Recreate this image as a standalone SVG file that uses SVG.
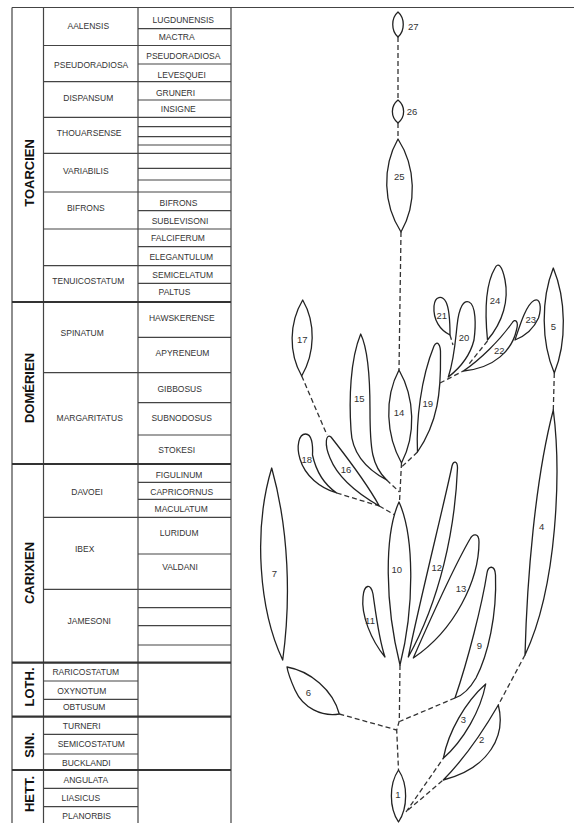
<svg xmlns="http://www.w3.org/2000/svg" width="574" height="823" viewBox="0 0 574 823">
<style>
.bg{fill:#fff}
.ln{stroke:#444;stroke-width:1.2;fill:none}
.tk{stroke:#333;stroke-width:2.2;fill:none}
.t{font-family:"Liberation Sans",Arial,sans-serif;font-size:8.5px;fill:#333;text-anchor:middle}
.st{font-family:"Liberation Sans",Arial,sans-serif;font-size:13px;font-weight:bold;fill:#111;text-anchor:middle}
.leaf{fill:#fff;stroke:#222;stroke-width:1.3;stroke-linejoin:round}
.n{font-family:"Liberation Sans",Arial,sans-serif;font-size:9.5px;fill:#333;text-anchor:middle}
.d{fill:none;stroke:#333;stroke-width:1.3;stroke-dasharray:5 3}
</style>
<rect class="bg" x="0" y="0" width="574" height="823"/>
<g id="table">
<path class="ln" d="M12,7.5H574 M12,7.5V823 M43.5,7.5V823 M138,7.5V823 M231,7.5V823"/>
<path class="tk" d="M12,302H231 M12,464H231 M12,662.7H231 M12,716.7H231 M12,770H231"/>
<path class="ln" d="M43.5,45.5H231 M43.5,81.7H231 M43.5,117.3H231 M43.5,153.3H231 M43.5,192H231 M43.5,229H231 M43.5,265.7H231 M43.5,372.7H231 M43.5,517.3H231 M43.5,589.3H231"/>
<path class="ln" d="M138,28.7H231 M138,64H231 M138,100H231 M138,126.7H231 M138,136.7H231 M138,145H231 M138,168.3H231 M138,180H231 M138,210.7H231 M138,246.7H231 M138,283.3H231 M138,337.3H231 M138,402.7H231 M138,435H231 M138,482.3H231 M138,499.3H231 M138,554H231 M138,607.7H231 M138,625.7H231 M138,645H231"/>
<path class="ln" d="M43.5,681H138 M43.5,699.3H138 M43.5,734.3H138 M43.5,754H138 M43.5,788.3H138 M43.5,806.7H138"/>
<text class="st" transform="translate(33.5,173) rotate(-90)">TOARCIEN</text>
<text class="st" transform="translate(33.5,388) rotate(-90)">DOMÉRIEN</text>
<text class="st" transform="translate(33.5,573) rotate(-90)">CARIXIEN</text>
<text class="st" transform="translate(33.5,687) rotate(-90)">LOTH.</text>
<text class="st" transform="translate(33.5,745) rotate(-90)">SIN.</text>
<text class="st" transform="translate(33.5,794) rotate(-90)">HETT.</text>
<text class="t" x="88.3" y="28.7">AALENSIS</text>
<text class="t" x="91.2" y="68">PSEUDORADIOSA</text>
<text class="t" x="88.3" y="101.3">DISPANSUM</text>
<text class="t" x="89.2" y="136.3">THOUARSENSE</text>
<text class="t" x="85.8" y="173.7">VARIABILIS</text>
<text class="t" x="85.8" y="211.3">BIFRONS</text>
<text class="t" x="88.3" y="284">TENUICOSTATUM</text>
<text class="t" x="82.2" y="336.3">SPINATUM</text>
<text class="t" x="89.7" y="421.3">MARGARITATUS</text>
<text class="t" x="87" y="494.7">DAVOEI</text>
<text class="t" x="84.7" y="552.3">IBEX</text>
<text class="t" x="89.2" y="624">JAMESONI</text>
<text class="t" x="183.3" y="23">LUGDUNENSIS</text>
<text class="t" x="176.7" y="39.7">MACTRA</text>
<text class="t" x="183.3" y="58.7">PSEUDORADIOSA</text>
<text class="t" x="181.7" y="78">LEVESQUEI</text>
<text class="t" x="175.5" y="96.3">GRUNERI</text>
<text class="t" x="178.3" y="112">INSIGNE</text>
<text class="t" x="178.5" y="206.3">BIFRONS</text>
<text class="t" x="180" y="224">SUBLEVISONI</text>
<text class="t" x="178" y="241.3">FALCIFERUM</text>
<text class="t" x="181.3" y="259.7">ELEGANTULUM</text>
<text class="t" x="182.7" y="278">SEMICELATUM</text>
<text class="t" x="174.5" y="294.7">PALTUS</text>
<text class="t" x="181.8" y="321.3">HAWSKERENSE</text>
<text class="t" x="182.5" y="356.3">APYRENEUM</text>
<text class="t" x="179.7" y="392.3">GIBBOSUS</text>
<text class="t" x="181.7" y="421.3">SUBNODOSUS</text>
<text class="t" x="176.7" y="453">STOKESI</text>
<text class="t" x="179" y="478">FIGULINUM</text>
<text class="t" x="181.7" y="494.7">CAPRICORNUS</text>
<text class="t" x="181.2" y="512.3">MACULATUM</text>
<text class="t" x="179.2" y="535.7">LURIDUM</text>
<text class="t" x="180" y="570.3">VALDANI</text>
<text class="t" x="85.8" y="674.7">RARICOSTATUM</text>
<text class="t" x="81.7" y="694">OXYNOTUM</text>
<text class="t" x="84.2" y="710.3">OBTUSUM</text>
<text class="t" x="81.7" y="729">TURNERI</text>
<text class="t" x="91.3" y="747.3">SEMICOSTATUM</text>
<text class="t" x="86.3" y="765.7">BUCKLANDI</text>
<text class="t" x="85.8" y="783">ANGULATA</text>
<text class="t" x="80.8" y="800.7">LIASICUS</text>
<text class="t" x="86.7" y="818.7">PLANORBIS</text>
</g>
<g id="connectors">
<path class="d" d="M398,37L398,100"/>
<path class="d" d="M398,123L398,139"/>
<path class="d" d="M401,232L399,370"/>
<path class="d" d="M401.5,463L399.5,502"/>
<path class="d" d="M417.5,452L400.5,468"/>
<path class="d" d="M386.7,480L399.5,492"/>
<path class="d" d="M379.3,506L395,515"/>
<path class="d" d="M336.7,493L379.3,506"/>
<path class="d" d="M301.7,376L327,435"/>
<path class="d" d="M440,383L463.3,371"/>
<path class="d" d="M487.5,341L469,364"/>
<path class="d" d="M450,335L453,345"/>
<path class="d" d="M554.3,373L553.3,410"/>
<path class="d" d="M525,655L498.3,705"/>
<path class="d" d="M400,665L399.3,721L396.7,730L398.5,770"/>
<path class="d" d="M455,698L399.5,721.5"/>
<path class="d" d="M339.3,714L396.7,730"/>
<path class="d" d="M406,812L443.3,758.3"/>
<path class="d" d="M408,810L443.3,780"/>
</g>
<g id="n27"><path class="leaf" d="M398,12C405,18 405,31 398,37C391,31 391,18 398,12Z"/><text class="n" x="413.3" y="30">27</text></g>
<g id="n26"><path class="leaf" d="M398,100C405.5,106 405.5,117 398,123C390.5,117 390.5,106 398,100Z"/><text class="n" x="412" y="115">26</text></g>
<g id="n25"><path class="leaf" d="M398,139C416,167 417,204 401,232C383,204 382,167 398,139Z"/><text class="n" x="399.3" y="180.3">25</text></g>
<g id="n24"><path class="leaf" d="M487.5,340C485,315 485,285 495,268C498,262 502,265 505,280C509,300 503,322 487.5,340Z"/><text class="n" x="495" y="304">24</text></g>
<g id="n23"><path class="leaf" d="M515,340C520,325 526,305 534,300.5C540,297 542,307 538.5,318C534,328 525,336 515,340Z"/><text class="n" x="530.7" y="323.3">23</text></g>
<g id="n22"><path class="leaf" d="M463.3,371C480,360 500,340 512,323C515,318 519,321 516.5,330C512,350 495,368 463.3,371Z"/><text class="n" x="499.3" y="354">22</text></g>
<g id="n21"><path class="leaf" d="M450,335C440,330 433,320 434,306C435,296 442,295 446,302C450,310 450,324 450,335Z"/><text class="n" x="441.7" y="319.3">21</text></g>
<g id="n20"><path class="leaf" d="M448.3,377C454,360 455,345 457,326C459,306 464,300 469,302C476,305 476,325 474,340C470,356 460,368 448.3,377Z"/><text class="n" x="464" y="340.6">20</text></g>
<g id="n19"><path class="leaf" d="M417.5,452C416,420 421,378 434,346C437,340 441,344 440.5,355C441,392 438,422 417.5,452Z"/><text class="n" x="427.7" y="407.3">19</text></g>
<g id="n17"><path class="leaf" d="M302.7,300C316,323 315,353 301.7,376C288.5,353 289,323 302.7,300Z"/><text class="n" x="302.3" y="342.6">17</text></g>
<g id="n15"><path class="leaf" d="M386.7,480C368,470 352,455 351,430C349,400 350,360 360.7,334C366,345 370,370 370,410C370,450 372,466 386.7,480Z"/><text class="n" x="359.3" y="401.6">15</text></g>
<g id="n14"><path class="leaf" d="M399,370C415,398 416,435 401.5,463C386,435 384,398 399,370Z"/><text class="n" x="399" y="416.3">14</text></g>
<g id="n5"><path class="leaf" d="M553.3,268C566,299 567,342 554.3,373C541,342 541,299 553.3,268Z"/><text class="n" x="553.3" y="330">5</text></g>
<g id="n18"><path class="leaf" d="M336.7,493C320,488 305,476 300,459C296,446 299,434 305.5,434C312,434 313,445 312.5,455C316,471 325,485 336.7,493Z"/><text class="n" x="306.7" y="462.6">18</text></g>
<g id="n16"><path class="leaf" d="M379.3,506C360,495 338,478 330,458C324,444 326,433 331,437C345,455 365,480 379.3,506Z"/><text class="n" x="346" y="472.6">16</text></g>
<g id="n4"><path class="leaf" d="M553.3,410C561,470 558,585 525,655C527,580 535,480 553.3,410Z"/><text class="n" x="541.7" y="530">4</text></g>
<g id="n7"><path class="leaf" d="M271.7,468C289,530 291,600 282.7,660C259,610 253,530 271.7,468Z"/><text class="n" x="274.3" y="577.3">7</text></g>
<g id="n10"><path class="leaf" d="M399,502C414,535 415,605 400,665C385,605 384,535 399,502Z"/><text class="n" x="396.7" y="573.3">10</text></g>
<g id="n12"><path class="leaf" d="M408.3,657C420,600 445,500 452,466C453.5,460 457.5,461 457.5,468C455,530 440,600 408.3,657Z"/><text class="n" x="436.7" y="571">12</text></g>
<g id="n13"><path class="leaf" d="M413.3,658C430,620 455,565 470,539C473,533 479,533 479,542C479,580 455,630 413.3,658Z"/><text class="n" x="461" y="591.6">13</text></g>
<g id="n11"><path class="leaf" d="M385,657C371,640 361,615 363,597C364,584 371,583 373,594C376,615 379,640 385,657Z"/><text class="n" x="370" y="624.3">11</text></g>
<g id="n9"><path class="leaf" d="M455,698C468,660 482,605 487,573C488,565 495,565 495.5,575C497,615 488,655 476,678C469,690 461,696 455,698Z"/><text class="n" x="479.3" y="649.3">9</text></g>
<g id="n6"><path class="leaf" d="M287,667C310,671 333,690 339.3,714C322,717 303,708 295,690C291,681 288,674 287,667Z"/><text class="n" x="308.3" y="695.6">6</text></g>
<g id="n3"><path class="leaf" d="M485.7,684C480.6,710.6 463.6,740.3 443.3,758.3C448.4,731.7 465.4,702 485.7,684Z"/><text class="n" x="463.3" y="723.3">3</text></g>
<g id="n2"><path class="leaf" d="M498.3,705C506,735 490,768 443.3,780C465,758 485,728 498.3,705Z"/><text class="n" x="481.7" y="743.3">2</text></g>
<g id="n1"><path class="leaf" d="M398.5,770C408,784 408,808 398.5,822C389,808 389,784 398.5,770Z"/><text class="n" x="398" y="798.3">1</text></g>
</svg>
